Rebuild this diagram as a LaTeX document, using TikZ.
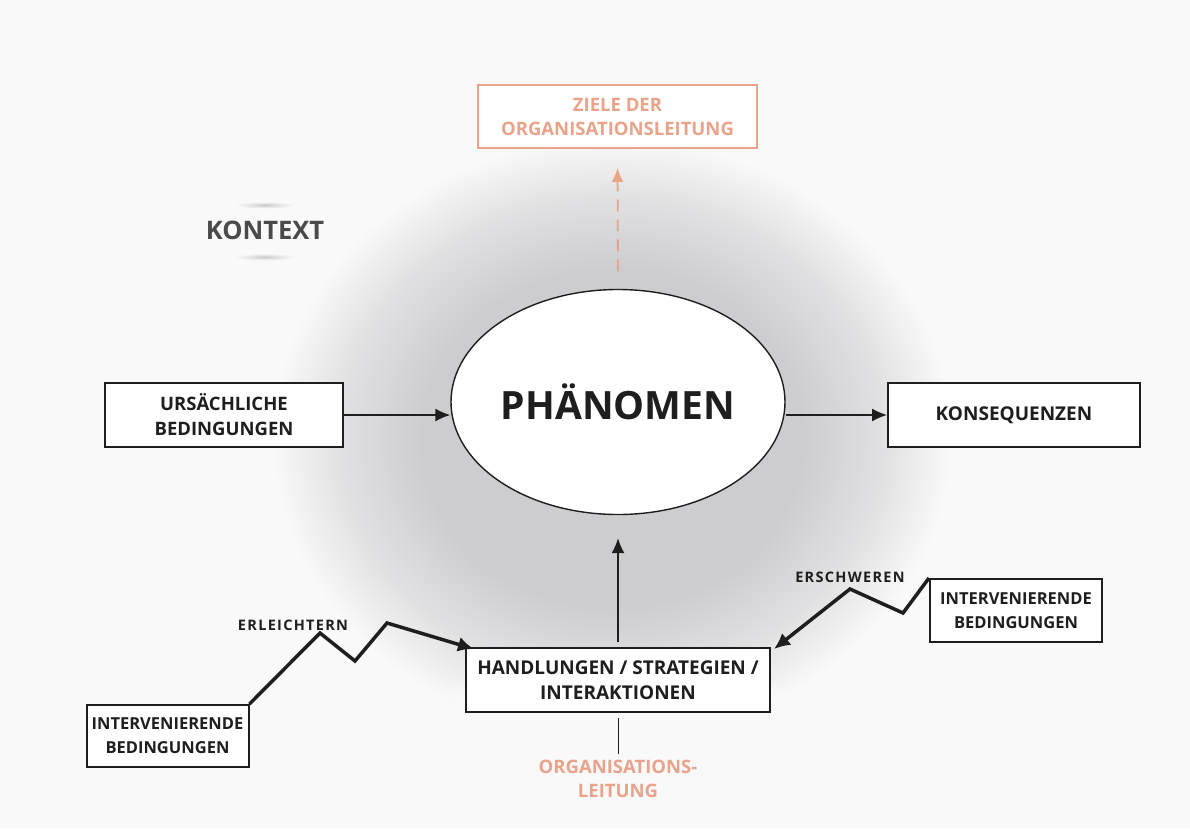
\documentclass[tikz,border=0pt]{standalone}
\usepackage{fontspec}
\setmainfont{Open Sans}
\newfontfamily\spacedfont{Open Sans}[LetterSpace=9]
\usetikzlibrary{arrows.meta,shapes.geometric,calc,fadings}
\definecolor{bgc}{HTML}{F9F9F9}
\definecolor{glowc}{HTML}{CDCDD0}
\definecolor{salmon}{HTML}{E8A38A}
\definecolor{ink}{HTML}{1E1E1E}
\definecolor{kontextc}{HTML}{4A4A4A}
\pgfdeclareradialshading{glow}{\pgfpoint{0bp}{0bp}}{color(0bp)=(glowc); color(14bp)=(glowc); color(20bp)=(glowc!55!bgc); color(25bp)=(bgc); color(50bp)=(bgc)}
\pgfdeclareradialshading{smear}{\pgfpoint{0bp}{0bp}}{color(0bp)=(black!22); color(8bp)=(black!14); color(25bp)=(bgc); color(50bp)=(bgc)}
\tikzset{
  box/.style={draw=ink, line width=2pt, fill=white, align=center, inner sep=0pt,
    font=\bfseries\fontsize{19}{25}\selectfont, text=ink},
  sbox/.style={box, font=\bfseries\fontsize{16.5}{24}\selectfont},
  arr/.style={draw=ink, line width=1.4pt, -{Latex[length=15pt,width=13pt]}},
  zig/.style={draw=ink, line width=3.5pt, line join=miter, -{Latex[length=16pt,width=15pt]}},
  lbl/.style={font=\spacedfont\bfseries\fontsize{14.5}{16}\selectfont, text=ink, inner sep=0pt},
  orange/.style={text=salmon, font=\bfseries\fontsize{18.5}{24}\selectfont, align=center}
}
\begin{document}
\begin{tikzpicture}[x=1pt,y=-1pt]
\useasboundingbox (0,0) rectangle (1190,828);
\fill[bgc] (0,0) rectangle (1190,828);
\shade[shading=glow] (612,438) ellipse (340 and 300);
\fill[bgc, path fading=circle with fuzzy edge 20 percent] (618,712) ellipse (210 and 48);
% KONTEXT smears
\shade[shading=smear] (265,205) ellipse (30 and 3.5);
\shade[shading=smear] (265,257) ellipse (30 and 3.5);
\node[font=\bfseries\fontsize{25.5}{28}\selectfont, text=kontextc] (kx) at (265,230) {KONTEXT};

\node[draw=salmon, line width=2pt, fill=white, minimum width=279pt, minimum height=63pt, inner sep=0pt, orange] (zo) at (617.5,116.5) {ZIELE DER\\ORGANISATIONSLEITUNG};

\node[ellipse, draw=ink, line width=1.4pt, fill=white, minimum width=334pt, minimum height=225pt, inner sep=0pt, font=\bfseries\fontsize{39}{40}\selectfont, text=ink] (ph) at (618,402) {PHÄNOMEN};

\node[box, minimum width=238pt, minimum height=64pt, font=\bfseries\fontsize{18.5}{25}\selectfont] (ub) at (224,415) {URSÄCHLICHE\\BEDINGUNGEN};
\node[box, minimum width=252pt, minimum height=64pt] (ko) at (1014,415) {KONSEQUENZEN};
\node[box, minimum width=304pt, minimum height=64pt] (hs) at (618,680) {HANDLUNGEN / STRATEGIEN /\\INTERAKTIONEN};
\node[sbox, minimum width=162pt, minimum height=62pt] (ib1) at (167.5,736) {INTERVENIERENDE\\BEDINGUNGEN};
\node[sbox, minimum width=172pt, minimum height=63pt] (ib2) at (1016,610.5) {INTERVENIERENDE\\BEDINGUNGEN};
\node[orange] (ol) at (618,779) {ORGANISATIONS-\\LEITUNG};

\node[lbl] (le) at (293,625) {ERLEICHTERN};
\node[lbl] (ls) at (850,577) {ERSCHWEREN};

% connectors
\draw[arr] (ub.east) -- (ph.west |- ub.east);
\draw[arr] (ph.east |- ko.west) -- (ko.west);
\draw[arr] ([yshift=5pt]hs.north) -- ([yshift=-23pt]ph.south);
\draw[salmon, line width=1.8pt, dash pattern=on 12pt off 8pt, -{Latex[length=14pt,width=12pt]}] ([yshift=17.5pt]ph.north) -- ([yshift=-19pt]zo.south);
\draw[ink, line width=1pt] ([yshift=-5pt]hs.south) -- ([yshift=3pt]ol.north);
\draw[zig] (ib1.north east) -- (320,633) -- (355,661) -- (387,623) -- ([xshift=9pt,yshift=-2pt]hs.north west);
\draw[zig] (ib2.north west) -- (903,613) -- (850,589) -- ([xshift=3pt,yshift=-2pt]hs.north east);
\end{tikzpicture}
\end{document}
